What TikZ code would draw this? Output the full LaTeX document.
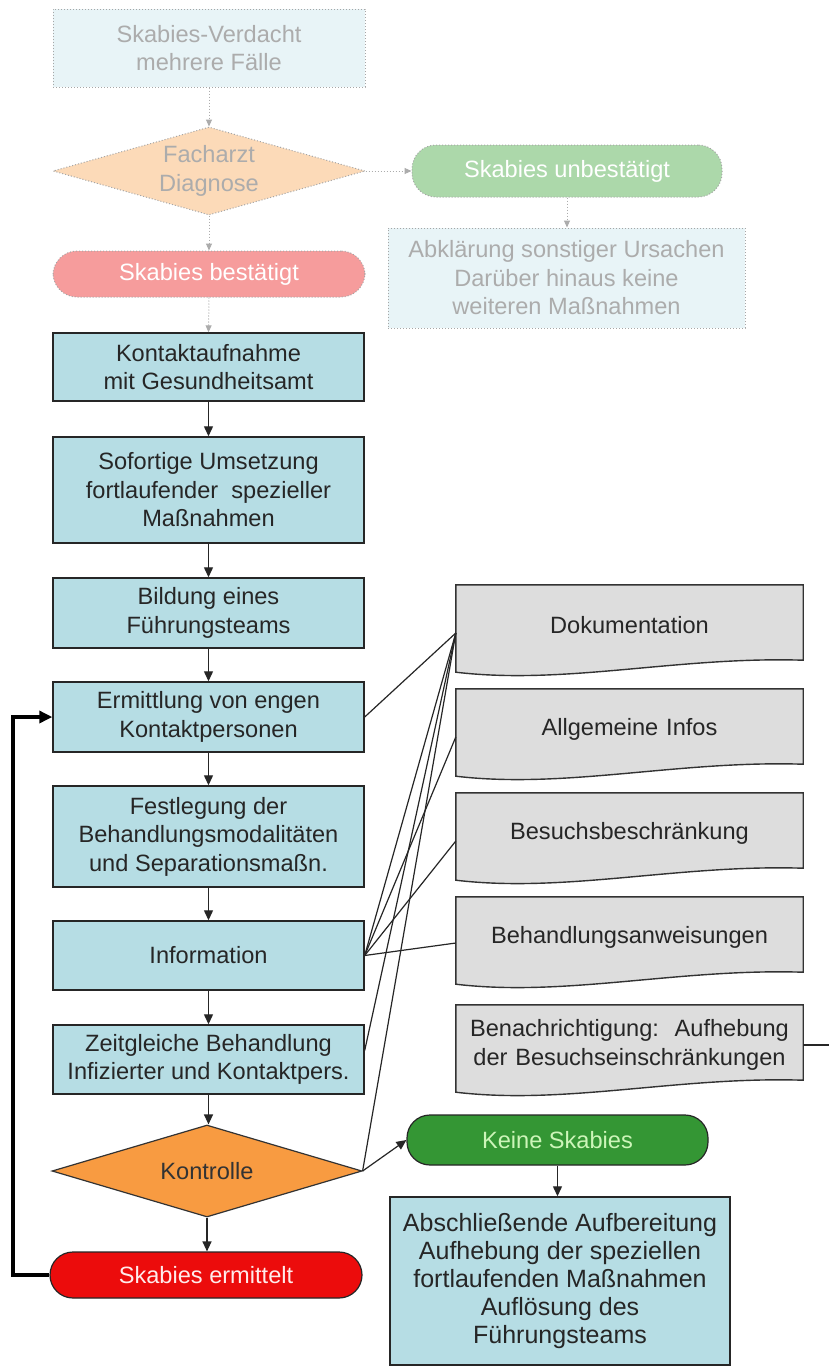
\documentclass[tikz,border=0pt]{standalone}
\usepackage{fontspec}
\setmainfont{Liberation Sans}
\usetikzlibrary{shapes.geometric,arrows.meta,calc,backgrounds}

\definecolor{boxblue}{RGB}{182,221,228}
\definecolor{docgray}{RGB}{221,221,221}
\definecolor{korange}{RGB}{248,155,65}
\definecolor{kred}{RGB}{236,12,12}
\definecolor{kgreen}{RGB}{52,150,52}
\definecolor{kgreentext}{RGB}{205,245,185}
\definecolor{fadeblue}{RGB}{232,244,247}
\definecolor{fadeorange}{RGB}{252,218,184}
\definecolor{fadegreen}{RGB}{172,216,170}
\definecolor{fadered}{RGB}{246,156,156}
\definecolor{fadetext}{RGB}{172,172,172}

\newcommand{\docoutline}[1]{%
  \begin{pgfonlayer}{background}
  \draw[docline] (#1.north west) -- (#1.north east) -- ($(#1.south east)+(0,-5)$)
    .. controls ($(#1.south east)+(-125,-9)$) and ($(#1.south west)+(110,20)$) .. ($(#1.south west)+(0,7)$) -- cycle;
  \end{pgfonlayer}}

\begin{document}
\begin{tikzpicture}[x=1pt,y=-1pt,
  every node/.style={font=\fontsize{23.6}{28.5}\selectfont, align=center, inner sep=0pt},
  proc/.style={draw=black!85, line width=1.4pt, fill=boxblue, minimum width=311pt, text=black!85},
  fadebox/.style={draw=gray!70, dotted, line width=1pt, fill=fadeblue, text=fadetext},
  fadedia/.style={diamond, aspect=3.5, draw=gray!70, dotted, line width=1pt, fill=fadeorange, text=fadetext, minimum width=312pt, minimum height=88pt},
  fadeterm/.style={rectangle, rounded corners=24pt, draw=gray!70, dotted, line width=1pt, text=white, minimum width=312pt},
  decide/.style={diamond, aspect=3.4, draw=black!80, line width=1.2pt, fill=korange, text=black!80, minimum width=310pt, minimum height=92pt},
  term/.style={rectangle, rounded corners=23pt, draw=black!85, line width=1.2pt},
  docnode/.style={minimum width=347pt, minimum height=80pt, text width=340pt, text=black!85},
  docline/.style={draw=black!80, line width=1.4pt, fill=docgray},
  conn/.style={draw=black!85, line width=1.2pt},
  arr/.style={conn, -{Triangle[length=10pt,width=9pt]}},
  fadearr/.style={draw=gray!65, dotted, line width=1pt, -{Triangle[length=7pt,width=6pt]}},
  back/.style={draw=black, line width=3.5pt, -{Triangle[length=13pt,width=12pt]}}
]
\begin{pgfonlayer}{background}
\fill[white] (0,0) rectangle (829,1368);
\end{pgfonlayer}
\useasboundingbox (0,0) rectangle (829,1368);

% faded upper part
\node[fadebox, minimum width=312pt, minimum height=78pt] (tb) at (209,48) {Skabies-Verdacht\\mehrere Fälle};
\node[fadedia] (fd) at (209,171) {Facharzt\\Diagnose};
\node[fadeterm, fill=fadegreen, minimum width=310pt, minimum height=52pt] (fg) at (567,171) {Skabies unbestätigt};
\node[fadebox, minimum width=357pt, minimum height=100pt] (fab) at (566.5,278) {Abklärung sonstiger Ursachen\\Darüber hinaus keine\\weiteren Maßnahmen};
\node[fadeterm, fill=fadered, minimum height=46pt] (fr) at (209,274) {Skabies bestätigt};

% main process
\node[proc, minimum height=68pt] (b1) at (208.5,367) {Kontaktaufnahme\\mit Gesundheitsamt};
\node[proc, minimum height=106pt] (b2) at (208.5,490) {Sofortige Umsetzung\\fortlaufender\ \ spezieller\\Maßnahmen};
\node[proc, minimum height=70pt] (b3) at (208.5,613) {Bildung eines\\Führungsteams};
\node[proc, minimum height=70pt] (b4) at (208.5,717) {Ermittlung von engen\\Kontaktpersonen};
\node[proc, minimum height=101pt] (b5) at (208.5,836.5) {Festlegung der\\Behandlungsmodalitäten\\und Separationsmaßn.};
\node[proc, minimum height=69pt] (b6) at (208.5,955.5) {Information};
\node[proc, minimum height=69pt] (b7) at (208.5,1059.5) {Zeitgleiche Behandlung\\Infizierter und Kontaktpers.};
\node[decide] (dia) at (207,1171) {Kontrolle};
\node[term, fill=kred, text=white!92!red, minimum width=312pt, minimum height=46pt] (ske) at (206,1275) {Skabies ermittelt};
\node[term, fill=kgreen, text=kgreentext, minimum width=301pt, minimum height=50pt] (ks) at (557.5,1140) {Keine Skabies};
\node[proc, minimum width=340pt, minimum height=168pt, font=\fontsize{25}{28.2}\selectfont] (ab) at (560,1281) {Abschließende Aufbereitung\\Aufhebung der speziellen\\fortlaufenden Maßnahmen\\Auflösung des\\Führungsteams};

% documents
\node[docnode] (d1) at (629.5,625) {Dokumentation};
\node[docnode] (d2) at (629.5,729) {Allgemeine Infos};
\node[docnode] (d3) at (629.5,833) {Besuchsbeschränkung};
\node[docnode] (d4) at (629.5,937) {Behandlungsanweisungen};
\node[docnode] (d5) at (629.5,1045) {Benachrichtigung:\ \ Aufhebung\\der Besuchseinschränkungen};
\docoutline{d1}
\docoutline{d2}
\docoutline{d3}
\docoutline{d4}
\docoutline{d5}

\coordinate (re) at (829,0);
\coordinate (fb) at (13,0);

% faded connectors
\draw[fadearr] (tb.south) -- (fd.north);
\draw[fadearr] (fd.east) -- (fg.west);
\draw[fadearr] (fg.south) -- (fg.south |- fab.north);
\draw[fadearr] (fd.south) -- (fr.north);
\draw[fadearr] (fr.south) -- (b1.north);

% main connectors
\draw[arr] (b1) -- (b2);
\draw[arr] (b2) -- (b3);
\draw[arr] (b3) -- (b4);
\draw[arr] (b4) -- (b5);
\draw[arr] (b5) -- (b6);
\draw[arr] (b6) -- (b7);
\draw[arr] (b7.south) -- (b7.south |- dia.north);
\draw[arr] (dia.south) -- (dia.south |- ske.north);
\draw[arr] (dia.east) -- (ks.west);
\draw[arr] (ks.south) -- (ks.south |- ab.north);
\draw[back] (ske.west) -- (ske.west -| fb) |- (b4.west);

% document links
\draw[conn] (b4.east) -- ($(d1.west)+(0,8)$);
\draw[conn] (b6.east) -- ($(d1.west)+(0,8)$);
\draw[conn] (b6.east) -- ($(d2.west)+(0,8)$);
\draw[conn] (b6.east) -- ($(d3.west)+(0,8)$);
\draw[conn] (b6.east) -- ($(d4.west)+(0,6)$);
\draw[conn] ($(b7.east)+(0,-9)$) -- ($(d1.west)+(0,8)$);
\draw[conn] (dia.east) -- ($(d1.west)+(0,8)$);
\draw[conn] (d5.east) -- (d5.east -| re);
\draw[draw=gray!85, line width=2.5pt] ($(ab.east)+(0,4)$) -- ($(ab.east)+(0,4)$ -| re);
\end{tikzpicture}
\end{document}
